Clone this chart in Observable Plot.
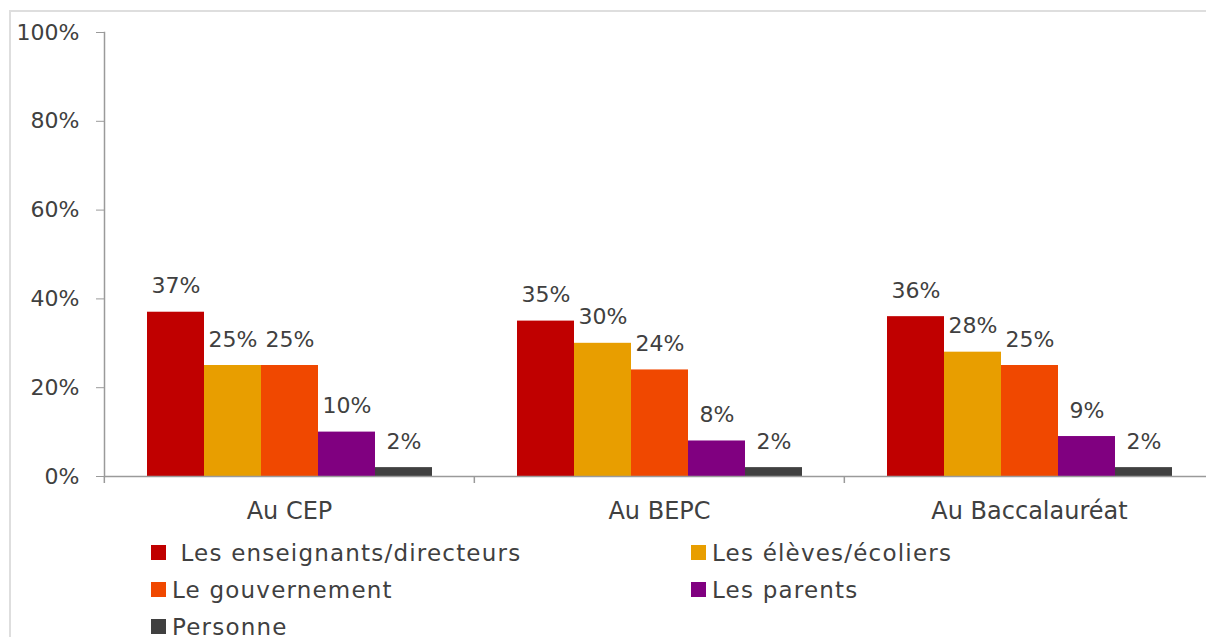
<!DOCTYPE html>
<html><head><meta charset="utf-8">
<script src="https://cdn.jsdelivr.net/npm/d3@7"></script>
<script src="https://cdn.jsdelivr.net/npm/@observablehq/plot@0.6"></script>
<style>
html,body{margin:0;padding:0;background:#fff;overflow:hidden;}
body{font-family:"DejaVu Sans",sans-serif;color:#404040;}
#wrap{position:absolute;left:0;top:0;width:1206px;height:637px;overflow:hidden;}
#frame{position:absolute;left:9px;top:10px;width:1400px;height:800px;border-top:2px solid #dedede;border-left:2px solid #dedede;box-sizing:border-box;}
#chart{position:absolute;left:0;top:0;}
#legend{position:absolute;left:151px;top:534px;display:grid;grid-template-columns:540px 320px;grid-auto-rows:37px;font-size:23px;letter-spacing:1.2px;}
.item{display:flex;align-items:center;white-space:pre;}
.sw{width:15px;height:15px;margin-right:6px;flex:none;}
</style></head>
<body>
<div id="wrap">
<div id="frame"></div>
<div id="chart"></div>
<div id="legend"></div>
</div>
<script>
const groups = ["Au CEP", "Au BEPC", "Au Baccalauréat"];
const series = ["Les enseignants/directeurs", "Les élèves/écoliers", "Le gouvernement", "Les parents", "Personne"];
const legendLabels = [" Les enseignants/directeurs", "Les élèves/écoliers", "Le gouvernement", "Les parents", "Personne"];
const colors = ["#C00000", "#E89E00", "#F04800", "#800080", "#404040"];
const enseignants = [37, 35, 36];
const eleves = [25, 30, 28];
const gouvernement = [25, 24, 25];
const parents = [10, 8, 9];
const personne = [2, 2, 2];
const yTicks = [0, 20, 40, 60, 80, 100];

const seriesValues = [enseignants, eleves, gouvernement, parents, personne];
const data = groups.flatMap((g, i) => series.map((s, j) => ({group: g, series: s, value: seriesValues[j][i]})));

const W = 1206, H = 530, ML = 103, MR = -8, MT = 32, MB = 54;
const bw = (W - ML - MR) / groups.length;

const chart = Plot.plot({
  width: W, height: H,
  marginLeft: ML, marginRight: MR, marginTop: MT, marginBottom: MB,
  style: {fontFamily: "DejaVu Sans", fontSize: "22px", color: "#404040", background: "transparent", overflow: "visible"},
  fx: {domain: groups, padding: 0, label: null},
  x: {domain: series, paddingInner: 0, paddingOuter: 0.745, axis: null},
  y: {domain: [0, 100], label: null},
  color: {domain: series, range: colors},
  marks: [
    Plot.barY(data, {fx: "group", x: "series", y: "value", fill: "series"}),
    Plot.text(data, {fx: "group", x: "series", y: "value", text: d => d.value + "%", dy: -26, fill: "#404040", fontSize: 22}),
    Plot.ruleY([0], {stroke: "#9a9a9a", strokeWidth: 1.5}),
    Plot.frame({anchor: "left", facetAnchor: "left", stroke: "#9a9a9a", strokeWidth: 1.5}),
    Plot.axisY({ticks: yTicks, tickFormat: d => d + "%", tickSize: 8, tickPadding: 17, stroke: "#9a9a9a", fontSize: 22, label: null}),
    Plot.axisFx({anchor: "bottom", tickSize: 0, tickPadding: 25, label: null, fontSize: 24, style: "letter-spacing:1.5px"}),
    Plot.axisFx({anchor: "bottom", text: null, tickSize: 7, dx: -bw / 2, stroke: "#9a9a9a", strokeWidth: 1.5, label: null})
  ]
});
document.getElementById("chart").appendChild(chart);

const legend = document.getElementById("legend");
legendLabels.forEach((lab, i) => {
  const it = document.createElement("div");
  it.className = "item";
  const sw = document.createElement("span");
  sw.className = "sw";
  sw.style.background = colors[i];
  const tx = document.createElement("span");
  tx.textContent = lab;
  it.appendChild(sw); it.appendChild(tx);
  legend.appendChild(it);
});
</script>
</body></html>
